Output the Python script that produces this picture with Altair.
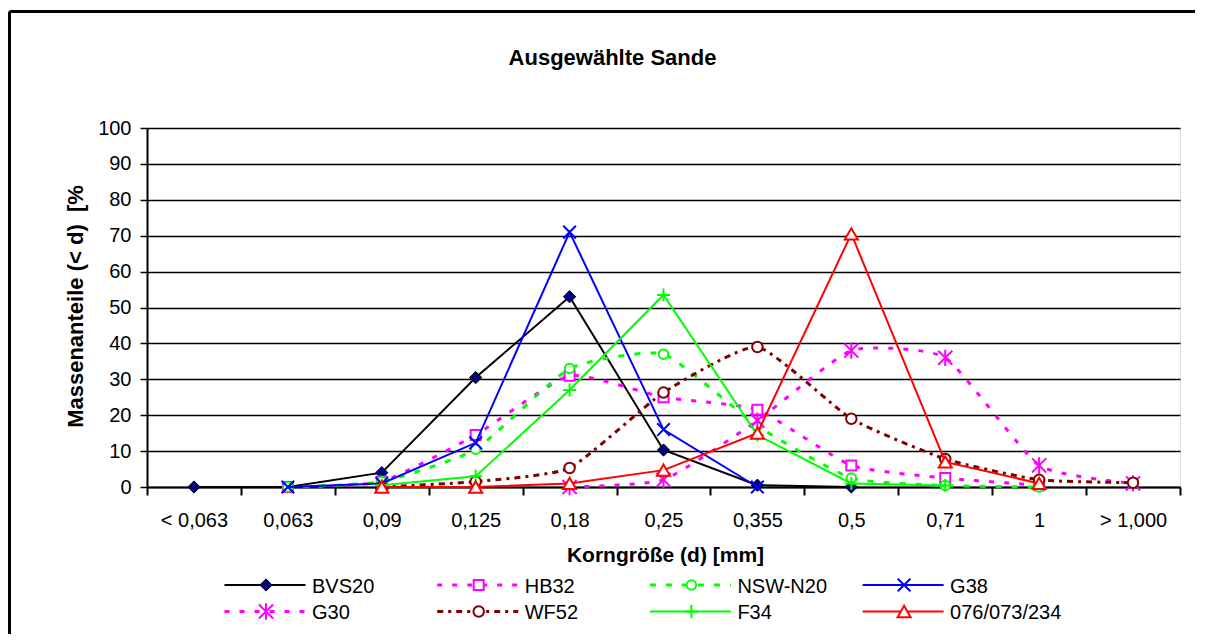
import altair as alt
import pandas as pd

# ---------------- data ----------------
categories = ["< 0,063", "0,063", "0,09", "0,125", "0,18", "0,25",
              "0,355", "0,5", "0,71", "1", "> 1,000"]
N = None
bvs20 = [0, 0, 4, 30.5, 53, 10.3, 0.5, 0, N, N, N]
hb32 = [N, 0, 1.5, 14.5, 31, 25, 21.5, 6, 2.5, 0.5, N]
nsw_n20 = [N, 0, 1.5, 10.5, 33, 37, 17, 2.5, 0.4, 0, N]
g38 = [N, 0, 1, 12.3, 71, 16, 0, N, N, N, N]
g30 = [N, N, N, N, 0, 2, 18.5, 38, 36, 6, 1]
wf52 = [N, N, 0, 1.5, 5.3, 26.3, 39, 19, 7.8, 2, 1.2]
f34 = [N, N, 0.5, 3, 27, 53.5, 14.5, 1, 0.4, N, N]
s076 = [N, N, 0, 0, 1, 4.7, 15, 70.5, 7, 1, N]

series_names = ["BVS20", "HB32", "NSW-N20", "G38", "G30", "WF52", "F34", "076/073/234"]
series_values = [bvs20, hb32, nsw_n20, g38, g30, wf52, f34, s076]

chart_title = "Ausgewählte Sande"
x_title = "Korngröße (d) [mm]"
y_title = "Massenanteile (< d)\u00a0 [%"

# ---------------- styles ----------------
X_PATH = "M-1,-1L1,1M-1,1L1,-1"
STAR_PATH = "M-1,-1L1,1M-1,1L1,-1M0,-1.15L0,1.15"
PLUS_PATH = "M-1,0L1,0M0,-1L0,1"

styles = {
    "BVS20": dict(color="#000000", dash=None, width=2, smooth=False,
                  shape="diamond", size=150, fill="#000080", mstroke="#000000", msw=1, filled=True),
    "HB32": dict(color="#FF00FF", dash=[5, 10], width=3, smooth=True,
                 shape="square", size=100, fill="#FFFFFF", mstroke="#FF00FF", msw=2, filled=True),
    "NSW-N20": dict(color="#00FF00", dash=[6, 10], width=3, smooth=True,
                    shape="circle", size=90, fill="#FFFFFF", mstroke="#00FF00", msw=2, filled=True),
    "G38": dict(color="#0000FF", dash=None, width=2, smooth=False,
                shape=X_PATH, size=160, fill=None, mstroke="#0000FF", msw=2, filled=False),
    "G30": dict(color="#FF00FF", dash=[5, 10], width=3, smooth=True,
                shape=STAR_PATH, size=200, fill=None, mstroke="#FF00FF", msw=2, filled=False),
    "WF52": dict(color="#800000", dash=[6, 5, 3, 5], width=3, smooth=True,
                 shape="circle", size=110, fill="#FFFFFF", mstroke="#800000", msw=2, filled=True),
    "F34": dict(color="#00FF00", dash=None, width=2, smooth=False,
                shape=PLUS_PATH, size=170, fill=None, mstroke="#00FF00", msw=2, filled=False),
    "076/073/234": dict(color="#FF0000", dash=None, width=2, smooth=False,
                        shape="triangle-up", size=170, fill="#FFFFFF", mstroke="#FF0000", msw=2, filled=True),
}

FONT = "Liberation Sans"

rows = []
for name, vals in zip(series_names, series_values):
    for cat, v in zip(categories, vals):
        if v is not None:
            rows.append({"series": name, "cat": cat, "value": v})
df = pd.DataFrame(rows)

legend_df = pd.DataFrame({
    "name": series_names,
    "col": [i % 4 for i in range(len(series_names))],
    "row": [i // 4 for i in range(len(series_names))],
})

W, H = 1033, 359

X = alt.X(
    "cat:N",
    scale=alt.Scale(type="band", domain=categories, paddingInner=0, paddingOuter=0),
    bandPosition=0.5,
    axis=alt.Axis(
        title=x_title, labelAngle=0, tickBand="extent", tickSize=8, tickWidth=2,
        tickColor="black", domainColor="black", domainWidth=2, grid=False,
        labelFontSize=20, labelColor="black", labelFont=FONT, labelPadding=31.5,
        labelBaseline="alphabetic", labelOverlap=False,
        titleFontSize=21, titleFont=FONT, titleFontWeight="bold", titleColor="black",
        titleX=518, titleY=74, titleAlign="center", titleBaseline="alphabetic",
    ),
)
Y = alt.Y(
    "value:Q",
    scale=alt.Scale(domain=[0, 100], nice=False),
    axis=alt.Axis(
        title=y_title, values=list(range(0, 101, 10)), tickSize=7, tickWidth=1.5,
        tickColor="black", domainColor="black", domainWidth=2,
        grid=True, gridColor="black", gridWidth=1.5, gridOpacity=1,
        labelFontSize=20, labelColor="black", labelFont=FONT, labelPadding=9,
        titleFontSize=22, titleFont=FONT, titleFontWeight="bold", titleColor="black",
        titleAngle=270, titleX=-65, titleY=178, titleAlign="center", titleBaseline="alphabetic",
    ),
)

main_layers = []
for name in series_names:
    s = styles[name]
    base = alt.Chart(df).transform_filter(alt.datum.series == name)
    line_kw = dict(color=s["color"], strokeWidth=s["width"])
    if s["smooth"]:
        line_kw["interpolate"] = "cardinal"
        line_kw["tension"] = 0.5
    if s["dash"]:
        line_kw["strokeDash"] = s["dash"]
    main_layers.append(base.mark_line(**line_kw).encode(x=X, y=Y))
    pt_kw = dict(shape=s["shape"], size=s["size"], stroke=s["mstroke"],
                 strokeWidth=s["msw"], opacity=1, filled=s["filled"])
    if s["fill"]:
        pt_kw["fill"] = s["fill"]
    main_layers.append(base.mark_point(**pt_kw).encode(x=X, y=Y))
main = alt.layer(*main_layers)

# ---------------- legend ----------------
LX = alt.X("col:Q", scale=alt.Scale(domain=[0, 4], range=[77.5, 77.5 + 4 * 212.7], nice=False, zero=False), axis=None)
LY = alt.Y("row:Q", scale=alt.Scale(domain=[0, 1], range=[457, 483.5], nice=False, zero=False), axis=None)

leg_layers = []
for name in series_names:
    s = styles[name]
    base = alt.Chart(legend_df).transform_filter(alt.datum.name == name)
    rule_kw = dict(color=s["color"], strokeWidth=s["width"], x2Offset=81)
    if s["dash"]:
        rule_kw["strokeDash"] = s["dash"]
    leg_layers.append(base.mark_rule(**rule_kw).encode(x=LX, x2=alt.X2("col:Q"), y=LY))
    pt_kw = dict(shape=s["shape"], size=s["size"], stroke=s["mstroke"],
                 strokeWidth=s["msw"], opacity=1, filled=s["filled"], xOffset=41.5)
    if s["fill"]:
        pt_kw["fill"] = s["fill"]
    leg_layers.append(base.mark_point(**pt_kw).encode(x=LX, y=LY))
leg_layers.append(
    alt.Chart(legend_df).mark_text(align="left", baseline="middle", dx=87.5, dy=1.5,
                                   fontSize=20, font=FONT, color="black")
    .encode(x=LX, y=LY, text="name:N")
)
legend = alt.layer(*leg_layers)

# ---------------- decoration: outer frame and title ----------------
one = pd.DataFrame({"t": [chart_title]})
frame_left = alt.Chart(one).mark_rule(color="black", strokeWidth=3).encode(
    x=alt.value(-137.5), y=alt.value(-116.5), y2=alt.value(506))
frame_top = alt.Chart(one).mark_rule(color="black", strokeWidth=3).encode(
    x=alt.value(-137.5), x2=alt.value(1048), y=alt.value(-116.5))
title = alt.Chart(one).mark_text(fontSize=22, fontWeight="bold", font=FONT, color="black",
                                 align="center", baseline="alphabetic").encode(
    x=alt.value(465.5), y=alt.value(-63), text="t:N")
deco = alt.layer(frame_left, frame_top, title)

chart = (
    alt.layer(main, legend, deco)
    .resolve_scale(x="independent", y="independent")
    .properties(width=W, height=H, background="white",
                padding={"left": 0, "top": 2, "right": 0, "bottom": 0})
    .configure_view(stroke="black", strokeWidth=2)
    .configure(font=FONT)
)

chart.save("out.html", embed_options={"renderer": "svg", "actions": False})
